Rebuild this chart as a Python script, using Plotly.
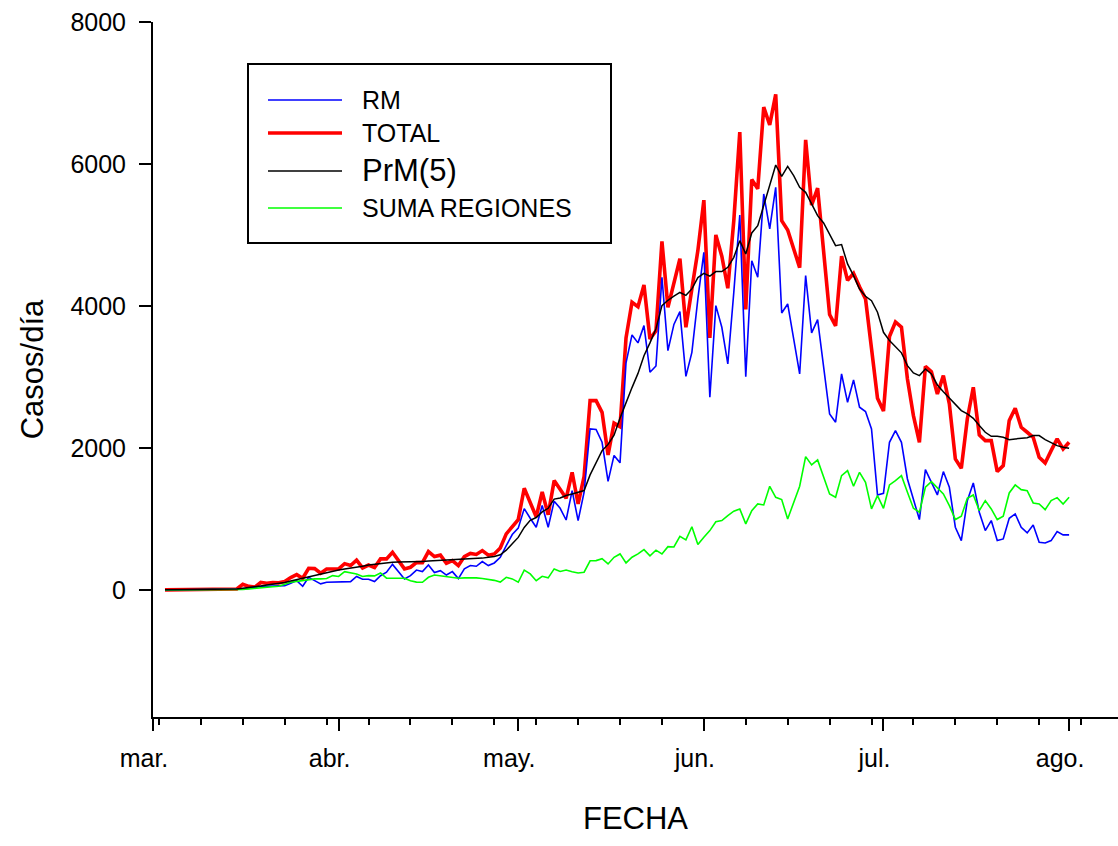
import plotly.graph_objects as go
import pandas as pd

# ---------------- data (daily, from 2020-03-03) ----------------
START_DATE = "2020-03-03"

TOTAL = [1, 2, 1, 1, 2, 3, 3, 4, 6, 10, 10, 18, 14, 80, 50, 40, 105, 95, 105, 100,
         120, 175, 215, 165, 305, 300, 235, 295, 300, 296, 370, 343, 420, 310, 350, 315,
         437, 437, 530, 420, 296, 319, 385, 385, 540, 470, 490, 375, 413, 343, 470, 515,
         500, 554, 490, 507, 590, 790, 900, 990, 1432, 1235, 1030, 1380, 1060, 1540, 1423,
         1290, 1657, 1211, 1600, 2667, 2667, 2502, 1900, 2350, 2300, 3550, 4052, 3990, 4296,
         3535, 3650, 4910, 3981, 4333, 4665, 3700, 4250, 4780, 5490, 3550, 5000, 4700, 4250,
         5200, 6450, 3950, 5780, 5650, 6800, 6550, 6980, 5200, 5070, 4800, 4540, 6340, 5420,
         5660, 4730, 3880, 3720, 4700, 4360, 4460, 4270, 4100, 3400, 2700, 2520, 3570, 3775,
         3700, 2972, 2455, 2080, 3150, 3075, 2761, 3019, 2620, 1845, 1714, 2408, 2854, 2183,
         2103, 2103, 1667, 1751, 2385, 2559, 2291, 2221, 2150, 1869, 1789, 1962, 2127, 1986,
         2080]

RM = [0, 1, 0, 0, 1, 1, 2, 2, 3, 4, 5, 8, 6, 12, 20, 40, 52, 52, 52, 55,
      60, 95, 131, 52, 178, 131, 85, 108, 108, 117, 117, 117, 190, 150, 150, 117,
      200, 249, 360, 249, 155, 202, 280, 258, 352, 245, 272, 210, 258, 160, 296, 343,
      333, 399, 343, 380, 460, 624, 780, 870, 1145, 1010, 883, 1190, 883, 1250, 1150,
      985, 1399, 977, 1376, 2268, 2260, 2080, 1530, 1895, 1790, 3200, 3592, 3480, 3723,
      3066, 3155, 4404, 3371, 3740, 3920, 3009, 3347, 4100, 4756, 2714, 4005, 3700, 3183,
      4192, 5282, 3005, 4638, 4404, 5577, 5085, 5671, 3901, 4028, 3535, 3042, 4427, 3620,
      3808, 3113, 2479, 2362, 3042, 2643, 2958, 2573, 2512, 2268, 1338, 1360, 2080, 2244,
      2080, 1563, 1258, 991, 1695, 1516, 1338, 1667, 1446, 883, 695, 1258, 1507, 1094,
      836, 977, 695, 718, 1009, 1070, 883, 803, 915, 671, 662, 695, 822, 775,
      775]

PRM5 = [1, 2, 1, 1, 1, 2, 2, 3, 4, 5, 7, 10, 12, 25, 32, 40, 55, 70, 80, 90,
        105, 125, 145, 160, 190, 210, 230, 250, 265, 280, 295, 305, 320, 335, 350, 362,
        372, 385, 390, 392, 392, 395, 398, 402, 406, 410, 414, 418, 422, 426, 432, 437,
        442, 448, 460, 472, 495, 560, 650, 740, 880, 980, 1020, 1100, 1150, 1280, 1295,
        1330, 1350, 1370, 1400, 1620, 1800, 1962, 2050, 2180, 2420, 2640, 2850, 3050, 3300,
        3480, 3680, 4005, 4080, 4140, 4190, 4150, 4240, 4400, 4460, 4420, 4484, 4484, 4545,
        4685, 4920, 4732, 5028, 5131, 5413, 5732, 5986, 5826, 5967, 5836, 5671, 5601, 5437,
        5272, 5169, 5014, 4850, 4864, 4592, 4427, 4239, 4136, 4075, 3911, 3629, 3512, 3430,
        3340, 3160, 3056, 3019, 3113, 3042, 2887, 2793, 2700, 2620, 2526, 2479, 2418, 2315,
        2221, 2164, 2164, 2150, 2117, 2127, 2136, 2145, 2174, 2174, 2117, 2070, 2033, 2009,
        1995]

SUMA_REGIONES = [0, 0, 0, 0, 0, 0, 0, 1, 1, 2, 3, 4, 5, 8, 15, 25, 35, 40, 45, 52,
                 75, 108, 120, 131, 145, 155, 155, 160, 202, 190, 258, 240, 225, 190, 202, 198,
                 239, 165, 165, 169, 165, 130, 110, 108, 178, 211, 200, 188, 170, 165, 170, 172,
                 170, 160, 150, 135, 110, 178, 155, 108, 280, 225, 130, 192, 170, 296, 260,
                 280, 255, 239, 250, 410, 413, 440, 366, 460, 507, 380, 460, 507, 568,
                 480, 560, 507, 610, 605, 756, 705, 890, 640, 742, 836, 960, 977, 1047,
                 1110, 1141, 930, 1117, 1211, 1197, 1460, 1305, 1272, 1000, 1225, 1460, 1878, 1761,
                 1831, 1587, 1352, 1305, 1610, 1681, 1460, 1657, 1516, 1141, 1329, 1150, 1479, 1540,
                 1610, 1376, 1150, 1094, 1446, 1526, 1432, 1352, 1188, 991, 1038, 1291, 1338, 1117,
                 1258, 1141, 991, 1038, 1366, 1479, 1413, 1399, 1225, 1211, 1131, 1258, 1300, 1211,
                 1305]

assert len(TOTAL) == len(RM) == len(PRM5) == len(SUMA_REGIONES), (
    len(TOTAL), len(RM), len(PRM5), len(SUMA_REGIONES))

MONTH_TICKS = ["2020-03-01", "2020-04-01", "2020-05-01", "2020-06-01", "2020-07-01", "2020-08-01"]
MONTH_LABELS = ["mar.", "abr.", "may.", "jun.", "jul.", "ago."]
Y_TICKS = [0, 2000, 4000, 6000, 8000]
Y_LABELS = ["0", "2000", "4000", "6000", "8000"]

SERIES_NAMES = ["RM", "TOTAL", "PrM(5)", "SUMA REGIONES"]

dates = pd.date_range(START_DATE, periods=len(TOTAL), freq="D")

# ---------------- figure ----------------
W, H = 1118, 846
ML, MR, MT, MB = 153, 0, 22, 129
PW, PH = W - ML - MR, H - MT - MB

colors = {"RM": "#0000ff", "TOTAL": "#ff0000", "PrM(5)": "#000000", "SUMA REGIONES": "#00ff00"}
widths = {"RM": 1.6, "TOTAL": 3.6, "PrM(5)": 1.5, "SUMA REGIONES": 1.6}

fig = go.Figure()
fig.add_trace(go.Scatter(x=dates, y=TOTAL, mode="lines", name="TOTAL",
                         line=dict(color=colors["TOTAL"], width=widths["TOTAL"])))
fig.add_trace(go.Scatter(x=dates, y=RM, mode="lines", name="RM",
                         line=dict(color=colors["RM"], width=widths["RM"])))
fig.add_trace(go.Scatter(x=dates, y=SUMA_REGIONES, mode="lines", name="SUMA REGIONES",
                         line=dict(color=colors["SUMA REGIONES"], width=widths["SUMA REGIONES"])))
fig.add_trace(go.Scatter(x=dates, y=PRM5, mode="lines", name="PrM(5)",
                         line=dict(color=colors["PrM(5)"], width=widths["PrM(5)"])))

FONT = "Arial, Liberation Sans, sans-serif"

fig.update_layout(
    width=W, height=H,
    margin=dict(l=ML, r=MR, t=MT, b=MB, pad=0),
    paper_bgcolor="white", plot_bgcolor="white",
    showlegend=False,
    font=dict(family=FONT, color="black"),
)

fig.update_xaxes(
    range=["2020-03-01", "2020-08-09 04:00"],
    tickmode="array", tickvals=MONTH_TICKS, ticktext=MONTH_LABELS,
    ticks="outside", ticklen=12, tickwidth=1.5, tickcolor="black",
    tickfont=dict(size=25, family=FONT, color="black"),
    ticklabelshift=-9, ticklabelstandoff=6,
    showline=True, linecolor="black", linewidth=2,
    showgrid=False, zeroline=False,
    minor=dict(ticks="outside", ticklen=6, tickwidth=1.5, tickcolor="black",
               tick0="2020-03-02", dtick=7 * 86400000, showgrid=False),
    title=dict(text="FECHA", font=dict(size=31, family=FONT), standoff=36),
)

fig.update_yaxes(
    range=[-1790, 8000],
    tickmode="array", tickvals=Y_TICKS, ticktext=Y_LABELS,
    ticks="outside", ticklen=12, tickwidth=1.5, tickcolor="black",
    tickfont=dict(size=25, family=FONT, color="black"),
    ticklabelstandoff=8,
    showline=True, linecolor="black", linewidth=2,
    showgrid=False, zeroline=False,
    title=dict(text="Casos/día", font=dict(size=31, family=FONT), standoff=18),
)

# ---------------- legend box (drawn like the original framed legend) ----------------
def px_x(px):
    return (px - ML) / PW

def px_y(py):
    return (H - MB - py) / PH

fig.add_shape(type="rect", xref="paper", yref="paper",
              x0=px_x(248), x1=px_x(611), y0=px_y(243), y1=px_y(64),
              line=dict(color="black", width=2), fillcolor="white", layer="above")

legend_rows = [100, 133, 171, 208]
legend_sizes = [25, 25, 31, 25]
for name, row, fs in zip(SERIES_NAMES, legend_rows, legend_sizes):
    fig.add_shape(type="line", xref="paper", yref="paper",
                  x0=px_x(268), x1=px_x(342), y0=px_y(row), y1=px_y(row),
                  line=dict(color=colors[name], width=widths[name]), layer="above")
    fig.add_annotation(xref="paper", yref="paper", x=px_x(360), y=px_y(row),
                       text=name, showarrow=False, xanchor="left", yanchor="middle",
                       font=dict(size=fs, family=FONT, color="black"))

fig.write_html("out.html", config={"displayModeBar": False})
